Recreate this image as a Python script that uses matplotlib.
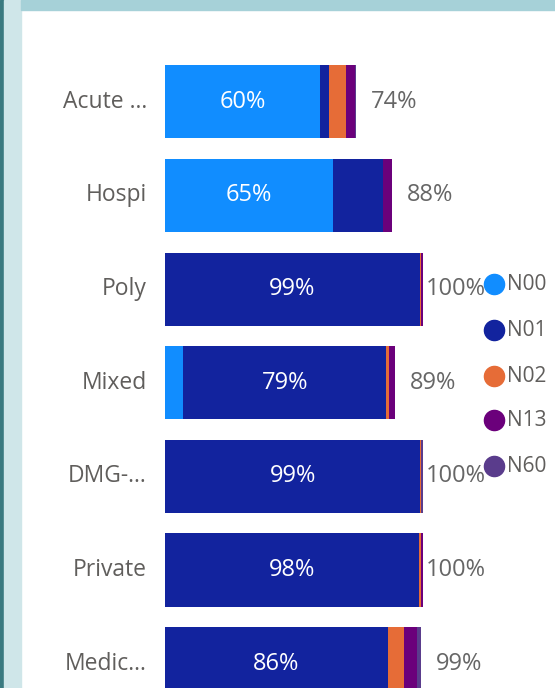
import matplotlib.pyplot as plt
from matplotlib.patches import Rectangle
from matplotlib.lines import Line2D

plt.rcParams['font.family'] = ['Open Sans', 'DejaVu Sans']

# categories (top to bottom) and stacked shares in percent
categories = ['Acute ...', 'Hospi', 'Poly', 'Mixed', 'DMG-...', 'Private', 'Medic...']
series = ['N00', 'N01', 'N02', 'N13', 'N60']
n00 = [60.0, 65.0, 0.0, 7.0, 0.0, 0.0, 0.0]
n01 = [3.5, 19.5, 98.8, 78.8, 99.0, 98.5, 86.4]
n02 = [6.5, 0.0, 0.3, 1.0, 0.4, 0.8, 6.2]
n13 = [3.7, 3.5, 0.9, 2.2, 0.0, 0.6, 5.0]
n60 = [0.3, 0.0, 0.0, 0.0, 0.6, 0.0, 1.5]
colors = ['#118DFF', '#12239E', '#E66C37', '#6B007B', '#5A3C8C']

W, H = 555, 688
fig = plt.figure(figsize=(W / 100, H / 100), dpi=100)

# frame decorations
fig.add_artist(Rectangle((0, 0), 4 / W, 1, transform=fig.transFigure, color='#3A7A80', zorder=0))
fig.add_artist(Rectangle((4 / W, 0), 17 / W, 1, transform=fig.transFigure, color='#CFE6E9', zorder=0))
fig.add_artist(Rectangle((21 / W, 1 - 10 / H), 1, 10 / H, transform=fig.transFigure, color='#A6D1D8', zorder=0))

ax = fig.add_axes([165 / W, 0, 258 / W, 648 / H])
ax.set_xlim(0, 100)
ax.set_ylim(6.26, -0.66)
ax.axis('off')

ys = list(range(len(categories)))
left = [0.0] * len(categories)
for name, vals, c in zip(series, [n00, n01, n02, n13, n60], colors):
    ax.barh(ys, vals, left=left, height=0.78, color=c, label=name)
    for i, v in enumerate(vals):
        if v > 50:
            ax.text(left[i] + v / 2, i, f'{round(v)}%', color='white', ha='center', va='center', fontsize=17)
    left = [l + v for l, v in zip(left, vals)]

for i, (cat, tot) in enumerate(zip(categories, left)):
    ax.text(-18 / 2.58, i, cat, ha='right', va='center', fontsize=16.5, color='#605E5C', clip_on=False)
    off = 2 if round(tot) >= 100 else 11
    ax.annotate(f'{round(tot)}%', (tot, i), xytext=(off, 0), textcoords='offset points',
                ha='left', va='center', fontsize=17, color='#666666', annotation_clip=False)

# legend on the right
leg_y = [284, 330, 376, 420, 466]
for name, c, yy in zip(series, colors, leg_y):
    fig.add_artist(Line2D([494 / W], [1 - yy / H], marker='o', markersize=14.5, color=c,
                          transform=fig.transFigure, linestyle='none'))
    fig.text(507 / W, 1 - yy / H, name, ha='left', va='center', fontsize=15, color='#605E5C')

plt.savefig('out.png', dpi=100)
